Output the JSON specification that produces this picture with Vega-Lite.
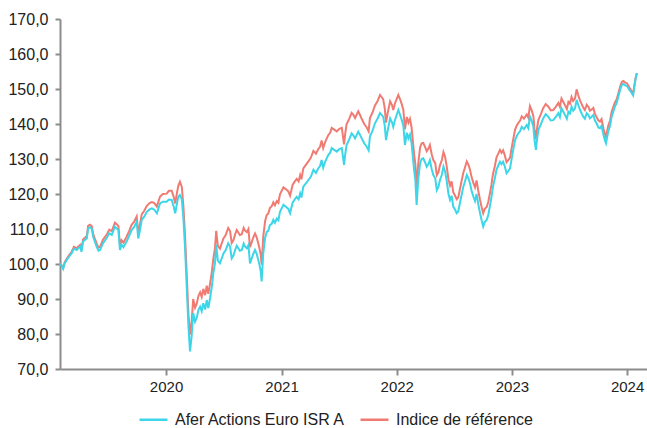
{
"$schema": "https://vega.github.io/schema/vega-lite/v6.json",
"width": 587, "height": 350,
"autosize": {"type": "none"},
"padding": {"left": 60, "top": 19, "right": 0, "bottom": 59},
"background": "white",
"config": {"view": {"stroke": null}, "font": "Liberation Sans"},
"data": {"values": [
{"d":"2019-01-30","f":100.0,"i":100.0},
{"d":"2019-02-05","f":99.4,"i":99.6},
{"d":"2019-02-09","f":98.6,"i":98.9},
{"d":"2019-02-14","f":100.2,"i":100.5},
{"d":"2019-02-20","f":101.1,"i":101.4},
{"d":"2019-02-27","f":102.0,"i":102.4},
{"d":"2019-03-08","f":103.1,"i":103.5},
{"d":"2019-03-15","f":104.4,"i":104.9},
{"d":"2019-03-24","f":104.0,"i":104.5},
{"d":"2019-03-30","f":104.6,"i":105.1},
{"d":"2019-04-04","f":105.0,"i":105.5},
{"d":"2019-04-08","f":103.5,"i":104.1},
{"d":"2019-04-13","f":106.4,"i":107.0},
{"d":"2019-04-25","f":107.3,"i":108.0},
{"d":"2019-04-29","f":110.2,"i":110.9},
{"d":"2019-05-05","f":110.5,"i":111.2},
{"d":"2019-05-11","f":110.0,"i":110.8},
{"d":"2019-05-15","f":107.8,"i":108.6},
{"d":"2019-05-20","f":106.5,"i":107.3},
{"d":"2019-05-26","f":105.0,"i":105.9},
{"d":"2019-06-01","f":103.8,"i":104.7},
{"d":"2019-06-06","f":104.0,"i":104.9},
{"d":"2019-06-15","f":105.9,"i":106.9},
{"d":"2019-06-27","f":107.4,"i":108.4},
{"d":"2019-07-05","f":108.8,"i":109.8},
{"d":"2019-07-13","f":108.3,"i":109.4},
{"d":"2019-07-23","f":110.7,"i":111.8},
{"d":"2019-07-28","f":110.2,"i":111.4},
{"d":"2019-08-03","f":109.7,"i":110.9},
{"d":"2019-08-08","f":104.0,"i":105.3},
{"d":"2019-08-13","f":105.5,"i":106.8},
{"d":"2019-08-19","f":104.8,"i":106.1},
{"d":"2019-08-29","f":106.4,"i":107.8},
{"d":"2019-09-06","f":108.0,"i":109.4},
{"d":"2019-09-14","f":109.7,"i":111.2},
{"d":"2019-09-22","f":110.6,"i":112.1},
{"d":"2019-09-30","f":112.1,"i":113.6},
{"d":"2019-10-05","f":107.3,"i":108.9},
{"d":"2019-10-10","f":109.5,"i":111.1},
{"d":"2019-10-16","f":112.6,"i":114.2},
{"d":"2019-10-24","f":113.5,"i":115.2},
{"d":"2019-11-01","f":114.9,"i":116.6},
{"d":"2019-11-10","f":115.6,"i":117.4},
{"d":"2019-11-17","f":115.9,"i":117.7},
{"d":"2019-11-25","f":115.5,"i":117.4},
{"d":"2019-12-03","f":114.5,"i":116.4},
{"d":"2019-12-13","f":117.3,"i":119.3},
{"d":"2019-12-22","f":117.8,"i":120.0},
{"d":"2020-01-03","f":117.8,"i":120.1},
{"d":"2020-01-10","f":118.4,"i":120.9},
{"d":"2020-01-19","f":118.3,"i":120.9},
{"d":"2020-01-25","f":116.5,"i":119.3},
{"d":"2020-01-30","f":114.5,"i":117.3},
{"d":"2020-02-05","f":117.5,"i":120.5},
{"d":"2020-02-09","f":119.2,"i":122.4},
{"d":"2020-02-14","f":119.7,"i":123.5},
{"d":"2020-02-20","f":118.5,"i":122.0},
{"d":"2020-02-25","f":113.0,"i":116.5},
{"d":"2020-03-01","f":105.0,"i":108.5},
{"d":"2020-03-07","f":92.6,"i":96.1},
{"d":"2020-03-12","f":82.1,"i":85.6},
{"d":"2020-03-17","f":75.0,"i":79.8},
{"d":"2020-03-22","f":79.3,"i":83.3},
{"d":"2020-03-27","f":86.0,"i":90.0},
{"d":"2020-04-02","f":83.5,"i":87.5},
{"d":"2020-04-07","f":84.6,"i":88.6},
{"d":"2020-04-13","f":87.0,"i":91.0},
{"d":"2020-04-18","f":87.8,"i":91.9},
{"d":"2020-04-23","f":86.5,"i":90.6},
{"d":"2020-04-28","f":88.8,"i":92.9},
{"d":"2020-05-04","f":87.0,"i":91.1},
{"d":"2020-05-09","f":89.7,"i":93.8},
{"d":"2020-05-14","f":87.4,"i":91.5},
{"d":"2020-05-20","f":90.5,"i":94.7},
{"d":"2020-05-25","f":93.5,"i":97.7},
{"d":"2020-05-30","f":97.5,"i":101.7},
{"d":"2020-06-04","f":100.2,"i":104.4},
{"d":"2020-06-08","f":105.5,"i":109.5},
{"d":"2020-06-13","f":101.0,"i":105.2},
{"d":"2020-06-20","f":100.2,"i":104.4},
{"d":"2020-06-25","f":101.5,"i":105.8},
{"d":"2020-07-01","f":103.0,"i":107.3},
{"d":"2020-07-08","f":104.0,"i":108.3},
{"d":"2020-07-16","f":105.9,"i":110.3},
{"d":"2020-07-22","f":105.0,"i":109.4},
{"d":"2020-07-27","f":101.6,"i":106.0},
{"d":"2020-08-02","f":102.5,"i":106.9},
{"d":"2020-08-07","f":104.0,"i":108.5},
{"d":"2020-08-12","f":105.2,"i":109.7},
{"d":"2020-08-17","f":104.5,"i":109.0},
{"d":"2020-08-22","f":103.8,"i":108.3},
{"d":"2020-08-28","f":104.0,"i":108.5},
{"d":"2020-09-03","f":105.8,"i":110.3},
{"d":"2020-09-07","f":105.0,"i":109.6},
{"d":"2020-09-13","f":104.5,"i":109.1},
{"d":"2020-09-18","f":105.4,"i":110.0},
{"d":"2020-09-23","f":100.2,"i":104.8},
{"d":"2020-09-28","f":101.5,"i":106.1},
{"d":"2020-10-04","f":103.0,"i":107.7},
{"d":"2020-10-09","f":104.0,"i":108.7},
{"d":"2020-10-14","f":103.0,"i":107.7},
{"d":"2020-10-22","f":100.2,"i":104.9},
{"d":"2020-10-27","f":98.0,"i":102.7},
{"d":"2020-10-30","f":95.0,"i":99.8},
{"d":"2020-11-04","f":103.0,"i":107.8},
{"d":"2020-11-10","f":107.5,"i":112.3},
{"d":"2020-11-15","f":109.2,"i":114.0},
{"d":"2020-11-20","f":109.5,"i":114.4},
{"d":"2020-11-25","f":111.1,"i":116.0},
{"d":"2020-12-01","f":111.5,"i":116.5},
{"d":"2020-12-06","f":112.6,"i":117.6},
{"d":"2020-12-11","f":111.8,"i":116.8},
{"d":"2020-12-17","f":113.0,"i":118.0},
{"d":"2020-12-22","f":112.5,"i":117.5},
{"d":"2020-12-27","f":114.9,"i":119.9},
{"d":"2021-01-07","f":116.9,"i":121.9},
{"d":"2021-01-14","f":116.4,"i":121.4},
{"d":"2021-01-22","f":115.8,"i":120.8},
{"d":"2021-01-28","f":114.5,"i":119.5},
{"d":"2021-02-05","f":117.5,"i":122.6},
{"d":"2021-02-12","f":118.5,"i":123.6},
{"d":"2021-02-18","f":119.2,"i":124.3},
{"d":"2021-02-24","f":118.5,"i":123.6},
{"d":"2021-03-01","f":120.2,"i":125.4},
{"d":"2021-03-05","f":119.0,"i":124.2},
{"d":"2021-03-11","f":122.1,"i":127.3},
{"d":"2021-03-19","f":123.0,"i":128.3},
{"d":"2021-03-27","f":124.0,"i":129.3},
{"d":"2021-04-04","f":125.0,"i":130.4},
{"d":"2021-04-12","f":126.9,"i":132.3},
{"d":"2021-04-20","f":126.0,"i":131.5},
{"d":"2021-04-27","f":127.3,"i":132.8},
{"d":"2021-05-03","f":128.0,"i":133.5},
{"d":"2021-05-08","f":129.7,"i":135.3},
{"d":"2021-05-13","f":127.5,"i":133.1},
{"d":"2021-05-19","f":129.2,"i":134.8},
{"d":"2021-05-29","f":131.1,"i":136.8},
{"d":"2021-06-04","f":131.8,"i":137.5},
{"d":"2021-06-09","f":133.1,"i":138.9},
{"d":"2021-06-17","f":132.6,"i":138.4},
{"d":"2021-06-25","f":132.1,"i":137.9},
{"d":"2021-07-03","f":132.8,"i":138.6},
{"d":"2021-07-11","f":133.1,"i":138.9},
{"d":"2021-07-18","f":128.3,"i":134.2},
{"d":"2021-07-22","f":131.5,"i":137.4},
{"d":"2021-07-26","f":134.0,"i":139.9},
{"d":"2021-08-03","f":135.5,"i":141.4},
{"d":"2021-08-11","f":137.3,"i":143.2},
{"d":"2021-08-16","f":136.8,"i":142.7},
{"d":"2021-08-22","f":135.9,"i":141.7},
{"d":"2021-09-01","f":137.8,"i":143.6},
{"d":"2021-09-06","f":137.0,"i":142.7},
{"d":"2021-09-12","f":135.9,"i":141.5},
{"d":"2021-09-20","f":134.5,"i":140.0},
{"d":"2021-09-28","f":133.5,"i":139.0},
{"d":"2021-10-04","f":132.5,"i":137.9},
{"d":"2021-10-08","f":136.4,"i":141.7},
{"d":"2021-10-16","f":138.0,"i":143.2},
{"d":"2021-10-24","f":140.2,"i":145.3},
{"d":"2021-11-01","f":141.5,"i":146.5},
{"d":"2021-11-09","f":143.1,"i":148.3},
{"d":"2021-11-19","f":142.1,"i":147.1},
{"d":"2021-11-24","f":139.5,"i":144.5},
{"d":"2021-11-28","f":135.4,"i":140.4},
{"d":"2021-12-03","f":138.0,"i":143.0},
{"d":"2021-12-11","f":141.6,"i":146.5},
{"d":"2021-12-17","f":140.5,"i":145.4},
{"d":"2021-12-21","f":139.2,"i":144.0},
{"d":"2021-12-26","f":141.0,"i":145.8},
{"d":"2022-01-06","f":144.0,"i":148.3},
{"d":"2022-01-12","f":142.5,"i":147.0},
{"d":"2022-01-17","f":141.1,"i":145.6},
{"d":"2022-01-22","f":139.5,"i":144.0},
{"d":"2022-01-27","f":134.0,"i":138.5},
{"d":"2022-02-02","f":137.5,"i":142.0},
{"d":"2022-02-07","f":135.9,"i":140.4},
{"d":"2022-02-12","f":137.0,"i":141.5},
{"d":"2022-02-17","f":134.5,"i":139.0},
{"d":"2022-02-25","f":126.9,"i":131.4},
{"d":"2022-03-01","f":124.0,"i":128.5},
{"d":"2022-03-05","f":116.9,"i":121.7},
{"d":"2022-03-10","f":124.0,"i":128.5},
{"d":"2022-03-16","f":128.8,"i":133.3},
{"d":"2022-03-21","f":130.0,"i":134.5},
{"d":"2022-03-26","f":130.2,"i":134.6},
{"d":"2022-04-01","f":129.0,"i":133.4},
{"d":"2022-04-06","f":127.8,"i":132.2},
{"d":"2022-04-11","f":128.5,"i":132.9},
{"d":"2022-04-16","f":129.7,"i":134.0},
{"d":"2022-04-22","f":127.0,"i":131.3},
{"d":"2022-04-27","f":125.4,"i":129.7},
{"d":"2022-05-03","f":124.5,"i":128.8},
{"d":"2022-05-08","f":121.1,"i":125.4},
{"d":"2022-05-13","f":122.0,"i":126.2},
{"d":"2022-05-18","f":124.0,"i":128.2},
{"d":"2022-05-24","f":125.5,"i":129.7},
{"d":"2022-05-29","f":127.8,"i":132.0},
{"d":"2022-06-03","f":126.5,"i":130.7},
{"d":"2022-06-08","f":124.0,"i":128.1},
{"d":"2022-06-14","f":120.0,"i":124.1},
{"d":"2022-06-19","f":118.3,"i":122.4},
{"d":"2022-06-24","f":119.5,"i":123.6},
{"d":"2022-06-29","f":116.4,"i":120.5},
{"d":"2022-07-05","f":115.5,"i":119.5},
{"d":"2022-07-10","f":114.5,"i":118.5},
{"d":"2022-07-15","f":115.0,"i":119.0},
{"d":"2022-07-20","f":117.3,"i":121.3},
{"d":"2022-07-25","f":119.5,"i":123.5},
{"d":"2022-07-31","f":122.1,"i":126.1},
{"d":"2022-08-05","f":123.5,"i":127.5},
{"d":"2022-08-11","f":125.4,"i":129.3},
{"d":"2022-08-16","f":124.5,"i":128.4},
{"d":"2022-08-21","f":123.1,"i":127.0},
{"d":"2022-08-26","f":121.0,"i":124.9},
{"d":"2022-09-01","f":119.2,"i":123.1},
{"d":"2022-09-06","f":118.0,"i":121.9},
{"d":"2022-09-11","f":120.0,"i":123.9},
{"d":"2022-09-16","f":117.3,"i":121.1},
{"d":"2022-09-22","f":114.5,"i":118.3},
{"d":"2022-09-27","f":112.5,"i":116.3},
{"d":"2022-10-02","f":110.7,"i":114.5},
{"d":"2022-10-07","f":112.0,"i":115.8},
{"d":"2022-10-13","f":112.6,"i":116.3},
{"d":"2022-10-18","f":114.0,"i":117.7},
{"d":"2022-10-23","f":116.4,"i":120.1},
{"d":"2022-10-28","f":119.0,"i":122.6},
{"d":"2022-11-02","f":122.1,"i":125.7},
{"d":"2022-11-08","f":124.5,"i":128.0},
{"d":"2022-11-13","f":126.9,"i":130.4},
{"d":"2022-11-18","f":128.0,"i":131.4},
{"d":"2022-11-24","f":129.2,"i":132.6},
{"d":"2022-11-29","f":128.5,"i":131.8},
{"d":"2022-12-04","f":129.2,"i":132.5},
{"d":"2022-12-09","f":128.0,"i":131.2},
{"d":"2022-12-15","f":125.9,"i":129.1},
{"d":"2022-12-20","f":126.5,"i":129.6},
{"d":"2022-12-26","f":127.3,"i":130.4},
{"d":"2023-01-03","f":131.6,"i":134.6},
{"d":"2023-01-11","f":135.4,"i":138.4},
{"d":"2023-01-16","f":136.5,"i":139.5},
{"d":"2023-01-21","f":137.3,"i":140.3},
{"d":"2023-01-27","f":138.0,"i":141.0},
{"d":"2023-02-01","f":139.2,"i":142.2},
{"d":"2023-02-08","f":138.5,"i":141.5},
{"d":"2023-02-17","f":139.7,"i":142.7},
{"d":"2023-02-22","f":138.8,"i":141.8},
{"d":"2023-02-27","f":142.1,"i":145.1},
{"d":"2023-03-05","f":140.8,"i":143.8},
{"d":"2023-03-10","f":139.2,"i":142.2},
{"d":"2023-03-14","f":135.0,"i":138.0},
{"d":"2023-03-18","f":132.6,"i":135.6},
{"d":"2023-03-22","f":136.0,"i":139.0},
{"d":"2023-03-26","f":138.3,"i":141.2},
{"d":"2023-04-03","f":140.0,"i":142.9},
{"d":"2023-04-10","f":141.6,"i":144.5},
{"d":"2023-04-18","f":142.8,"i":145.7},
{"d":"2023-04-26","f":142.1,"i":145.0},
{"d":"2023-05-04","f":141.0,"i":143.9},
{"d":"2023-05-12","f":141.1,"i":144.0},
{"d":"2023-05-20","f":142.0,"i":144.9},
{"d":"2023-05-28","f":143.1,"i":146.0},
{"d":"2023-06-02","f":142.0,"i":144.9},
{"d":"2023-06-07","f":144.5,"i":147.3},
{"d":"2023-06-13","f":143.5,"i":146.3},
{"d":"2023-06-18","f":142.6,"i":145.4},
{"d":"2023-06-24","f":141.5,"i":144.3},
{"d":"2023-06-29","f":143.5,"i":146.3},
{"d":"2023-07-04","f":143.0,"i":145.8},
{"d":"2023-07-09","f":144.9,"i":147.7},
{"d":"2023-07-14","f":143.8,"i":146.6},
{"d":"2023-07-20","f":144.5,"i":147.3},
{"d":"2023-07-25","f":146.9,"i":149.9},
{"d":"2023-07-30","f":145.5,"i":148.3},
{"d":"2023-08-05","f":144.0,"i":146.7},
{"d":"2023-08-10","f":143.0,"i":145.7},
{"d":"2023-08-15","f":142.1,"i":144.7},
{"d":"2023-08-20","f":141.5,"i":144.0},
{"d":"2023-08-26","f":143.1,"i":145.5},
{"d":"2023-09-01","f":142.5,"i":144.8},
{"d":"2023-09-05","f":141.6,"i":143.8},
{"d":"2023-09-10","f":142.0,"i":144.1},
{"d":"2023-09-16","f":142.6,"i":144.6},
{"d":"2023-09-21","f":141.0,"i":142.9},
{"d":"2023-09-26","f":140.2,"i":142.0},
{"d":"2023-10-02","f":139.0,"i":141.0},
{"d":"2023-10-07","f":138.8,"i":140.7},
{"d":"2023-10-12","f":139.5,"i":141.4},
{"d":"2023-10-18","f":136.9,"i":138.7},
{"d":"2023-10-22","f":135.5,"i":137.3},
{"d":"2023-10-26","f":134.5,"i":136.3},
{"d":"2023-11-02","f":137.8,"i":139.4},
{"d":"2023-11-08","f":139.5,"i":141.0},
{"d":"2023-11-13","f":142.1,"i":143.5},
{"d":"2023-11-18","f":143.5,"i":144.8},
{"d":"2023-11-23","f":144.9,"i":146.1},
{"d":"2023-11-29","f":146.0,"i":147.1},
{"d":"2023-12-04","f":147.8,"i":148.7},
{"d":"2023-12-10","f":149.8,"i":150.7},
{"d":"2023-12-15","f":151.1,"i":152.0},
{"d":"2023-12-20","f":151.5,"i":152.3},
{"d":"2023-12-25","f":151.1,"i":151.9},
{"d":"2024-01-01","f":150.8,"i":151.6},
{"d":"2024-01-05","f":150.2,"i":150.9},
{"d":"2024-01-10","f":149.5,"i":150.1},
{"d":"2024-01-16","f":148.8,"i":149.3},
{"d":"2024-01-20","f":148.2,"i":148.7},
{"d":"2024-01-24","f":150.7,"i":151.0},
{"d":"2024-01-28","f":153.0,"i":153.2},
{"d":"2024-02-01","f":154.5,"i":154.6}
]},
"transform": [{"fold": ["f", "i"], "as": ["s", "v"]}],
"encoding": {
  "x": {"field": "d", "type": "temporal",
    "scale": {"domain": ["2019-01-30", "2024-03-04"]},
    "axis": {"title": null, "grid": false, "format": "%Y", "tickCount": {"interval": "year", "step": 1},
      "domainColor": "#8c8c8c", "domainWidth": 2, "tickColor": "#8c8c8c", "tickWidth": 2, "tickSize": 6,
      "labelFont": "Liberation Sans", "labelFontSize": 15, "labelColor": "#222222", "labelPadding": 4, "labelFlush": false}},
  "y": {"field": "v", "type": "quantitative",
    "scale": {"domain": [70, 170], "nice": false, "zero": false},
    "axis": {"title": null, "grid": false, "values": [70, 80, 90, 100, 110, 120, 130, 140, 150, 160, 170],
      "labelExpr": "replace(format(datum.value, '.1f'), '.', ',')",
      "domainColor": "#8c8c8c", "domainWidth": 2, "tickColor": "#8c8c8c", "tickWidth": 2, "tickSize": 5,
      "labelFont": "Liberation Sans", "labelFontSize": 16, "labelColor": "#222222", "labelPadding": 7}},
  "color": {"field": "s", "type": "nominal",
    "scale": {"domain": ["f", "i"], "range": ["#3DD5E8", "#F07B72"]},
    "legend": {"title": null, "orient": "none", "direction": "horizontal", "legendX": 78, "legendY": 385, "padding": 0,
      "symbolType": "stroke", "symbolSize": 784, "symbolStrokeWidth": 2.5,
      "labelExpr": "datum.value == 'f' ? 'Afer Actions Euro ISR A' : 'Indice de référence'",
      "labelFont": "Liberation Sans", "labelFontSize": 16, "labelColor": "#222222", "labelOffset": 6, "columnPadding": 9, "labelLimit": 400}}
},
"layer": [
  {"transform": [{"filter": "datum.s == 'i'"}], "mark": {"type": "line", "strokeWidth": 2}},
  {"transform": [{"filter": "datum.s == 'f'"}], "mark": {"type": "line", "strokeWidth": 2}}
]
}
